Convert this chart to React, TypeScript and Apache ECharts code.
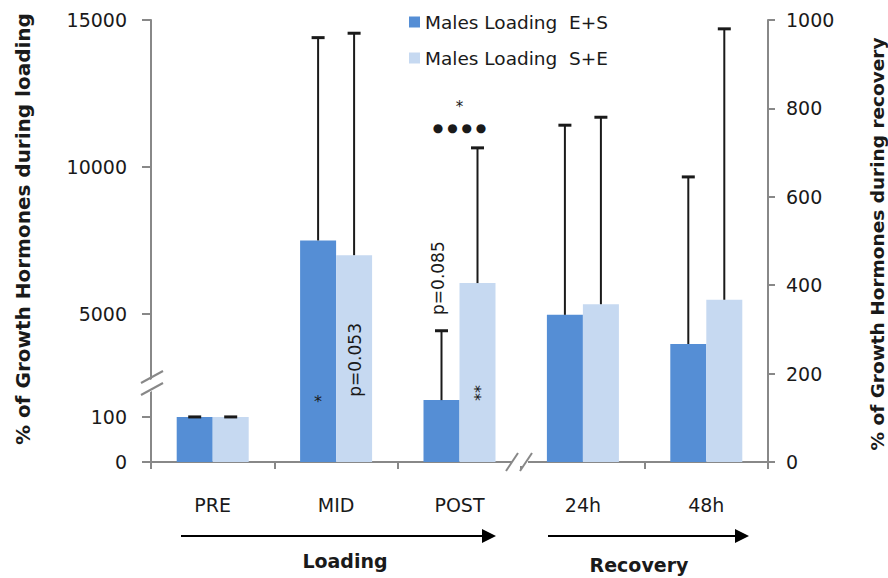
import React, { useEffect, useRef } from 'react';
import * as echarts from 'echarts';

// ---- data ----
const categories = ['PRE', 'MID', 'POST', '24h', '48h'];
const legendNames = ['Males Loading  E+S', 'Males Loading  S+E'];
// mean values (first three on the loading axis, last two on the recovery axis)
const esMean = [100, 7500, 900, 333, 267];
const esTop = [100, 14400, 4200, 762, 645]; // mean + SD
const seMean = [100, 7000, 6050, 357, 367];
const seTop = [100, 14550, 10650, 780, 980];
const loadingCount = 3;
const leftTicks = [0, 100, 5000, 10000, 15000];
const rightMax = 1000;
const rightInterval = 200;

// broken loading axis -> display units shared with recovery axis (0..1000)
function broken(v: number): number {
  if (v <= 100) return v * 1.02;
  if (v <= 5000) return 102 + ((v - 100) / 4900) * 233;
  return 335 + ((v - 5000) / 10000) * 665;
}
const disp = (v: number, i: number) => (i < loadingCount ? broken(v) : v);

const DARK = '#558ED5';
const LIGHT = '#C6D9F1';
const AXIS = '#888888';
const FONT = 'DejaVu Sans';
const GRID = { left: 151, right: 120, top: 20, bottom: 116 };

const notes = [
  { text: '*', cat: 1, dx: -18, d: 137, rot: 0, size: 16 },
  { text: 'p=0.053', cat: 1, dx: 19, d: 231, rot: 90, size: 17 },
  { text: 'p=0.085', cat: 2, dx: -22, d: 416, rot: 90, size: 17 },
  { text: '**', cat: 2, dx: 21, d: 156, rot: 90, size: 16 },
  { text: '*', cat: 2, dx: 0, d: 803, rot: 0, size: 15 },
  { text: '● ● ● ●', cat: 2, dx: 0, d: 756, rot: 0, size: 12 },
];

function errSeries(name: string, means: number[], tops: number[], offset: number) {
  return {
    type: 'custom',
    name,
    yAxisIndex: 0,
    silent: true,
    z: 5,
    data: means.map((m, i) => [i, disp(m, i), disp(tops[i], i)]),
    renderItem: (_p: any, api: any) => {
      const base = api.coord([api.value(0), api.value(1)]);
      const top = api.coord([api.value(0), api.value(2)]);
      const x = base[0] + offset;
      return {
        type: 'group',
        children: [
          { type: 'line', shape: { x1: x, y1: base[1], x2: x, y2: top[1] }, style: { stroke: '#1a1a1a', lineWidth: 2 } },
          { type: 'line', shape: { x1: x - 6.5, y1: top[1], x2: x + 6.5, y2: top[1] }, style: { stroke: '#1a1a1a', lineWidth: 3 } },
        ],
      };
    },
  };
}

export default function App() {
  const ref = useRef<HTMLDivElement>(null);
  useEffect(() => {
    if (!ref.current) return;
    const chart = echarts.init(ref.current, null, { renderer: 'svg' });
    const leftCustom = leftTicks.map(broken);
    const option: any = {
      animation: false,
      textStyle: { fontFamily: FONT },
      grid: GRID,
      legend: {
        data: legendNames,
        orient: 'vertical',
        left: 409,
        top: 12,
        itemWidth: 11,
        itemHeight: 11,
        itemGap: 16,
        icon: 'rect',
        padding: 0,
        textStyle: { fontFamily: FONT, fontSize: 18.5, color: '#1a1a1a', lineHeight: 20 },
      },
      xAxis: {
        type: 'category',
        data: categories,
        axisLine: { lineStyle: { color: AXIS, width: 2 } },
        axisTick: { show: true, length: 7, lineStyle: { color: AXIS, width: 2 } },
        axisLabel: { margin: 33, fontSize: 19, color: '#1a1a1a', fontFamily: FONT },
      },
      yAxis: [
        {
          type: 'value',
          min: 0,
          max: rightMax,
          position: 'left',
          splitLine: { show: false },
          axisLine: { show: true, lineStyle: { color: AXIS, width: 2 } },
          axisTick: { show: true, length: 9, customValues: leftCustom, lineStyle: { color: AXIS, width: 2 } },
          axisLabel: {
            customValues: leftCustom,
            margin: 24,
            fontSize: 19,
            color: '#1a1a1a',
            fontFamily: FONT,
            formatter: (val: number) => {
              const idx = leftCustom.findIndex((c) => Math.abs(c - val) < 0.5);
              return idx >= 0 ? String(leftTicks[idx]) : '';
            },
          },
        },
        {
          type: 'value',
          min: 0,
          max: rightMax,
          interval: rightInterval,
          position: 'right',
          splitLine: { show: false },
          axisLine: { show: true, lineStyle: { color: AXIS, width: 2 } },
          axisTick: { show: true, length: 7, lineStyle: { color: AXIS, width: 2 } },
          axisLabel: {
            margin: 18,
            fontSize: 19,
            color: '#1a1a1a',
            fontFamily: FONT,
            formatter: (val: number) => String(val),
          },
        },
      ],
      series: [
        {
          type: 'bar',
          name: legendNames[0],
          yAxisIndex: 0,
          barWidth: 36,
          barGap: '0%',
          itemStyle: { color: DARK },
          data: esMean.map((v, i) => disp(v, i)),
        },
        {
          type: 'bar',
          name: legendNames[1],
          yAxisIndex: 0,
          barWidth: 36,
          barGap: '0%',
          itemStyle: { color: LIGHT },
          data: seMean.map((v, i) => disp(v, i)),
        },
        errSeries('errES', esMean, esTop, -18),
        errSeries('errSE', seMean, seTop, 18),
      ],
    };
    chart.setOption(option);

    const H = 578;
    const gy1 = H - GRID.bottom;
    const gray = { stroke: AXIS, lineWidth: 2 };
    const graphics: any[] = [
      // left axis break
      { type: 'polygon', shape: { points: [[141, 385], [163, 373], [163, 385], [141, 397]] }, style: { fill: '#fff' }, z: 100 },
      { type: 'line', shape: { x1: 141, y1: 383, x2: 163, y2: 371 }, style: gray, z: 101 },
      { type: 'line', shape: { x1: 141, y1: 395, x2: 163, y2: 383 }, style: gray, z: 101 },
      // x axis break
      { type: 'rect', shape: { x: 512, y: gy1 - 4, width: 16, height: 8 }, style: { fill: '#fff' }, z: 100 },
      { type: 'line', shape: { x1: 506, y1: gy1 + 9, x2: 518, y2: gy1 - 9 }, style: gray, z: 101 },
      { type: 'line', shape: { x1: 520, y1: gy1 + 9, x2: 532, y2: gy1 - 9 }, style: gray, z: 101 },
      // arrows
      { type: 'line', shape: { x1: 181, y1: 536, x2: 484, y2: 536 }, style: { stroke: '#000', lineWidth: 2 } },
      { type: 'polygon', shape: { points: [[482, 529], [496, 536], [482, 543]] }, style: { fill: '#000' } },
      { type: 'line', shape: { x1: 548, y1: 536, x2: 737, y2: 536 }, style: { stroke: '#000', lineWidth: 2 } },
      { type: 'polygon', shape: { points: [[735, 529], [749, 536], [735, 543]] }, style: { fill: '#000' } },
      { type: 'text', x: 345, y: 561, style: { text: 'Loading', font: `bold 19px "${FONT}"`, fill: '#1a1a1a', align: 'center', verticalAlign: 'middle' } },
      { type: 'text', x: 639, y: 565, style: { text: 'Recovery', font: `bold 19px "${FONT}"`, fill: '#1a1a1a', align: 'center', verticalAlign: 'middle' } },
      // axis titles
      { type: 'text', x: 23, y: 229, rotation: Math.PI / 2, style: { text: '% of Growth Hormones during loading', font: `bold 20px "${FONT}"`, fill: '#1a1a1a', align: 'center', verticalAlign: 'middle' } },
      { type: 'text', x: 877, y: 244, rotation: Math.PI / 2, style: { text: '% of Growth Hormones during recovery', font: `bold 18.5px "${FONT}"`, fill: '#1a1a1a', align: 'center', verticalAlign: 'middle' } },
    ];
    notes.forEach((n) => {
      const p = chart.convertToPixel({ xAxisIndex: 0, yAxisIndex: 0 }, [categories[n.cat], n.d]) as number[];
      graphics.push({
        type: 'text',
        x: p[0] + n.dx,
        y: p[1],
        rotation: (n.rot * Math.PI) / 180,
        z: 110,
        style: { text: n.text, font: `${n.size}px "${FONT}"`, fill: '#1a1a1a', align: 'center', verticalAlign: 'middle' },
      });
    });
    chart.setOption({ graphic: graphics });
    return () => chart.dispose();
  }, []);
  return <div ref={ref} style={{ position: 'absolute', left: 0, top: 0, width: 888, height: 578 }} />;
}
